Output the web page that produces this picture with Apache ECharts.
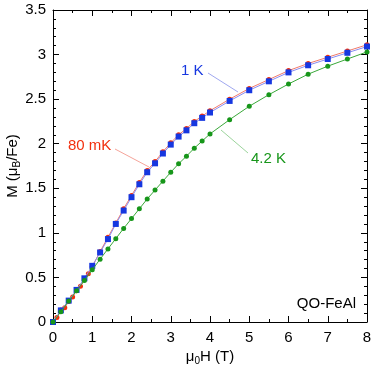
<!DOCTYPE html>
<html>
<head>
<meta charset="utf-8">
<script src="https://cdn.jsdelivr.net/npm/echarts@6/dist/echarts.min.js"></script>
<style>
  html, body { margin: 0; padding: 0; background: #fff; }
  #chart { width: 382px; height: 370px; }
</style>
</head>
<body>
<div id="chart"></div>
<script>
// field (T) and magnetisation (muB/Fe)
var field80mK = [0, 0.1, 0.2, 0.3, 0.4, 0.5, 0.6, 0.7, 0.8, 0.9, 1.0, 1.2, 1.4, 1.6, 1.8, 2.0, 2.2, 2.4, 2.6, 2.8, 3.0, 3.2, 3.4, 3.6, 3.8, 4.0, 4.5, 5, 5.5, 6, 6.5, 7, 7.5, 8];
var m80mK = [0, 0.05, 0.135, 0.16, 0.23, 0.28, 0.35, 0.40, 0.48, 0.54, 0.62, 0.79, 0.95, 1.11, 1.27, 1.42, 1.565, 1.70, 1.80, 1.91, 2.01, 2.10, 2.17, 2.25, 2.31, 2.37, 2.50, 2.62, 2.72, 2.82, 2.90, 2.97, 3.04, 3.11];

var field1K = [0, 0.2, 0.4, 0.6, 0.8, 1.0, 1.2, 1.4, 1.6, 1.8, 2.0, 2.2, 2.4, 2.6, 2.8, 3.0, 3.2, 3.4, 3.6, 3.8, 4.0, 4.5, 5, 5.5, 6, 6.5, 7, 7.5, 8];
var m1K = [0, 0.13, 0.24, 0.36, 0.49, 0.63, 0.78, 0.93, 1.10, 1.25, 1.40, 1.545, 1.68, 1.78, 1.89, 1.99, 2.08, 2.15, 2.23, 2.29, 2.35, 2.48, 2.60, 2.70, 2.80, 2.88, 2.95, 3.02, 3.09];

var field42K = [0, 0.2, 0.4, 0.6, 0.8, 1.0, 1.2, 1.4, 1.6, 1.8, 2.0, 2.2, 2.4, 2.6, 2.8, 3.0, 3.2, 3.4, 3.6, 3.8, 4.0, 4.5, 5, 5.5, 6, 6.5, 7, 7.5, 8];
var m42K = [0, 0.115, 0.235, 0.35, 0.465, 0.585, 0.705, 0.82, 0.935, 1.05, 1.16, 1.27, 1.38, 1.48, 1.58, 1.68, 1.775, 1.86, 1.95, 2.03, 2.11, 2.27, 2.42, 2.55, 2.67, 2.78, 2.87, 2.95, 3.03];

var xTicks = [0, 1, 2, 3, 4, 5, 6, 7, 8];
var yTicks = [0, 0.5, 1, 1.5, 2, 2.5, 3, 3.5];

function pairs(xs, ys) {
  return xs.map(function (x, i) { return [x, ys[i]]; });
}

var font = 'Liberation Sans, Arial, Helvetica, sans-serif';

var chart = echarts.init(document.getElementById('chart'));

function mainAxis(pos, vals, extra) {
  var ax = {
    type: 'value',
    position: pos,
    min: vals[0],
    max: vals[vals.length - 1],
    interval: vals[1] - vals[0],
    axisLine: { show: true, onZero: false, lineStyle: { color: '#000', width: 1 } },
    axisTick: { show: true, inside: true, length: 6, lineStyle: { color: '#000' } },
    minorTick: { show: true, length: 3, lineStyle: { color: '#000' } },
    splitLine: { show: false },
    axisLabel: { show: false }
  };
  for (var k in extra) ax[k] = extra[k];
  return ax;
}

chart.setOption({
  backgroundColor: '#fff',
  animation: false,
  grid: { left: 53, right: 15, top: 10, bottom: 48, containLabel: false, outerBoundsMode: 'none' },
  xAxis: [
    mainAxis('bottom', xTicks, {
      minorTick: { show: true, splitNumber: 2, length: 3, lineStyle: { color: '#000' } },
      axisLabel: { show: true, color: '#000', fontSize: 15, fontFamily: font, margin: 8 },
      name: '{a|μ}{s|0}{a|H (T)}',
      nameLocation: 'middle',
      nameGap: 26,
      nameMoveOverlap: false,
      nameTextStyle: {
        rich: {
          a: { fontSize: 15, fontFamily: font, color: '#000' },
          s: { fontSize: 10, fontFamily: font, color: '#000', verticalAlign: 'bottom', padding: [8, 0, 0, 0] }
        }
      }
    }),
    mainAxis('top', xTicks, {
      minorTick: { show: true, splitNumber: 2, length: 3, lineStyle: { color: '#000' } }
    })
  ],
  yAxis: [
    mainAxis('left', yTicks, {
      minorTick: { show: true, splitNumber: 5, length: 3, lineStyle: { color: '#000' } },
      axisLabel: { show: true, color: '#000', fontSize: 15, fontFamily: font, margin: 7 },
      name: '{a|M (μ}{s|B}{a|/Fe)}',
      nameLocation: 'middle',
      nameGap: 31,
      nameRotate: 90,
      nameMoveOverlap: false,
      nameTextStyle: {
        rich: {
          a: { fontSize: 15, fontFamily: font, color: '#000' },
          s: { fontSize: 10, fontFamily: font, color: '#000', verticalAlign: 'bottom', padding: [8, 0, 0, 0] }
        }
      }
    }),
    mainAxis('right', yTicks, {
      minorTick: { show: true, splitNumber: 5, length: 3, lineStyle: { color: '#000' } }
    })
  ],
  series: [
    {
      name: '80 mK',
      type: 'line',
      data: pairs(field80mK, m80mK),
      symbol: 'circle',
      symbolSize: 5,
      lineStyle: { color: '#f07a6a', width: 1 },
      itemStyle: { color: '#f2300f' },
      z: 2
    },
    {
      name: '1 K',
      type: 'line',
      data: pairs(field1K, m1K),
      symbol: 'rect',
      symbolSize: 6,
      lineStyle: { color: '#8a8cf0', width: 1 },
      itemStyle: { color: '#1637e0' },
      z: 3
    },
    {
      name: '4.2 K',
      type: 'line',
      data: pairs(field42K, m42K),
      symbol: 'circle',
      symbolSize: 5,
      lineStyle: { color: '#3aa83a', width: 1 },
      itemStyle: { color: '#17961a' },
      z: 4
    }
  ],
  graphic: [
    { type: 'text', left: 68, top: 138, style: { text: '80 mK', fill: '#f2300f', font: '15px ' + font } },
    { type: 'line', shape: { x1: 115, y1: 149, x2: 149, y2: 167 }, style: { stroke: '#f5a49a', lineWidth: 1 } },
    { type: 'text', left: 181, top: 63, style: { text: '1 K', fill: '#1637e0', font: '15px ' + font } },
    { type: 'line', shape: { x1: 208, y1: 73, x2: 238, y2: 92 }, style: { stroke: '#a0a8f0', lineWidth: 1 } },
    { type: 'text', left: 251, top: 151, style: { text: '4.2 K', fill: '#17961a', font: '15px ' + font } },
    { type: 'line', shape: { x1: 248, y1: 153, x2: 221, y2: 130 }, style: { stroke: '#9cd49c', lineWidth: 1 } },
    { type: 'text', right: 26, top: 296, style: { text: 'QO-FeAl', fill: '#000', font: '15px ' + font } }
  ]
});
</script>
</body>
</html>
